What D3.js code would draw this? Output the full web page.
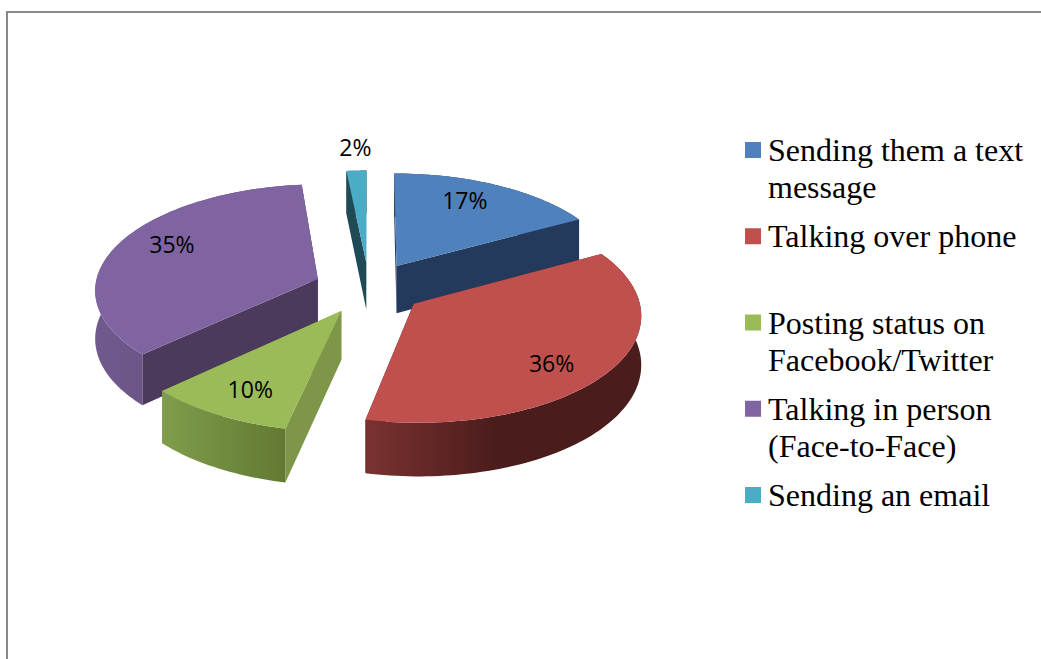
<!DOCTYPE html>
<html>
<head>
<meta charset="utf-8">
<script src="https://cdn.jsdelivr.net/npm/d3@7"></script>
<style>
    html, body { margin: 0; padding: 0; background: #fff; overflow: hidden; }
    svg { display: block; }
</style>
</head>
<body>
<svg width="1041" height="659"></svg>
<script>
// Chart data
const categories = ["Sending them a text message", "Talking over phone", "Posting status on Facebook/Twitter", "Talking in person (Face-to-Face)", "Sending an email"];
const legendLines = [["Sending them a text", "message"], ["Talking over phone"], ["Posting status on", "Facebook/Twitter"], ["Talking in person", "(Face-to-Face)"], ["Sending an email"]];
const values = [17, 36.4, 9.6, 35.4, 1.6];

// Slice styling
const topColors = ["#4f81bd", "#c0504d", "#9bbb59", "#8064a2", "#4bacc6"];
const wallColors = ["#243a5c", "#4b1c1c", "#7e9648", "#4b3a5c", "#1f4a56"];
const outerLeftColors = ["#243a5c", "#7a3230", "#7f9d4b", "#70598c", "#1f4a56"];
const outerRightColors = ["#243a5c", "#4b1c1c", "#627932", "#5f4b78", "#1f4a56"];
const labelRadius = [0.76, 0.74, 0.74, 0.66, 1.24];
const labelNudgeX = [-10, -4, -1, -13, 1];
const labelNudgeY = [-3, 10, 4, -11, -3];
const drawOrder = [4, 0, 3, 1, 2];

// Pie projection settings
const config = {
    cx: 369, cy: 288,
    rx: 223, ry: 105,
    perspective: 0.092,
    explode: 0.247,
    depth: 48
};

const svg = d3.select("svg");
const defs = svg.append("defs");

// Frame, runs off the right and bottom of the picture
svg.append("rect")
    .attr("x", 7).attr("y", 12)
    .attr("width", 1100).attr("height", 720)
    .attr("fill", "none")
    .attr("stroke", "#8a8a8a")
    .attr("stroke-width", 2);

const arcs = d3.pie().sort(null).value(d => d)(values);

// Pie plane to screen. X goes right, Y goes away from the viewer
function project(X, Y, down) {
    const f = 1 / (1 + config.perspective * Y);
    return [
        config.cx + config.rx * X * f,
        config.cy - config.ry * Y * f + (down ? config.depth * f : 0)
    ];
}

function slicePoint(arc, angle, r) {
    const mid = (arc.startAngle + arc.endAngle) / 2;
    return [
        config.explode * Math.sin(mid) + r * Math.sin(angle),
        config.explode * Math.cos(mid) + r * Math.cos(angle)
    ];
}

const line = d3.line();

function arcPoints(arc, down) {
    const steps = Math.max(4, Math.ceil((arc.endAngle - arc.startAngle) * 40));
    const angle = d3.scaleLinear().domain([0, steps]).range([arc.startAngle, arc.endAngle]);
    return d3.range(steps + 1).map(i => {
        const p = slicePoint(arc, angle(i), 1);
        return project(p[0], p[1], down);
    });
}

const pieLayer = svg.append("g");

drawOrder.forEach(i => {
    const arc = arcs[i];
    const centre = slicePoint(arc, 0, 0);
    const topArc = arcPoints(arc, false);
    const bottomArc = arcPoints(arc, true);
    const apexTop = project(centre[0], centre[1], false);
    const apexBottom = project(centre[0], centre[1], true);

    const xs = topArc.map(p => p[0]);
    defs.append("linearGradient")
        .attr("id", `outer-${i}`)
        .attr("gradientUnits", "userSpaceOnUse")
        .attr("x1", d3.min(xs)).attr("y1", 0)
        .attr("x2", i === 1 ? d3.min(xs) + 130 : d3.max(xs)).attr("y2", 0)
        .selectAll("stop")
        .data([outerLeftColors[i], outerRightColors[i]])
        .join("stop")
        .attr("offset", (d, k) => k)
        .attr("stop-color", d => d);

    const g = pieLayer.append("g").attr("class", "slice");

    // Cut faces
    [[topArc[0], bottomArc[0]], [topArc[topArc.length - 1], bottomArc[bottomArc.length - 1]]].forEach(edge => {
        g.append("path")
            .attr("d", line([apexTop, edge[0], edge[1], apexBottom]) + "Z")
            .attr("fill", wallColors[i]);
    });

    // Rim
    g.append("path")
        .attr("d", line(topArc.concat(bottomArc.slice().reverse())) + "Z")
        .attr("fill", `url(#outer-${i})`);

    // Top face
    g.append("path")
        .attr("d", line([apexTop].concat(topArc)) + "Z")
        .attr("fill", topColors[i]);
});

// Percent labels
svg.append("g")
    .selectAll("text")
    .data(arcs)
    .join("text")
    .each(function (d, i) {
        const mid = (d.startAngle + d.endAngle) / 2;
        const p = slicePoint(d, mid, labelRadius[i]);
        const pos = project(p[0], p[1], false);
        d3.select(this)
            .attr("x", pos[0] + labelNudgeX[i])
            .attr("y", pos[1] + 8 + labelNudgeY[i]);
    })
    .attr("text-anchor", "middle")
    .attr("font-family", "'Open Sans', sans-serif")
    .attr("font-size", 23)
    .attr("fill", "#000")
    .text(d => `${Math.round(d.value)}%`);

// Legend
const legendY = d3.scaleLinear().domain([0, categories.length - 1]).range([150, 495]);
const legend = svg.append("g")
    .selectAll("g")
    .data(categories)
    .join("g")
    .attr("transform", (d, i) => `translate(745,${legendY(i)})`);

legend.append("rect")
    .attr("x", 0).attr("y", -8)
    .attr("width", 16).attr("height", 16)
    .attr("fill", (d, i) => topColors[i]);

legend.append("text")
    .attr("font-family", "'Liberation Serif', serif")
    .attr("font-size", 32)
    .attr("fill", "#000")
    .selectAll("tspan")
    .data((d, i) => legendLines[i])
    .join("tspan")
    .attr("x", 23)
    .attr("y", (d, k) => 11 + k * 37)
    .text(d => d);
</script>
</body>
</html>
